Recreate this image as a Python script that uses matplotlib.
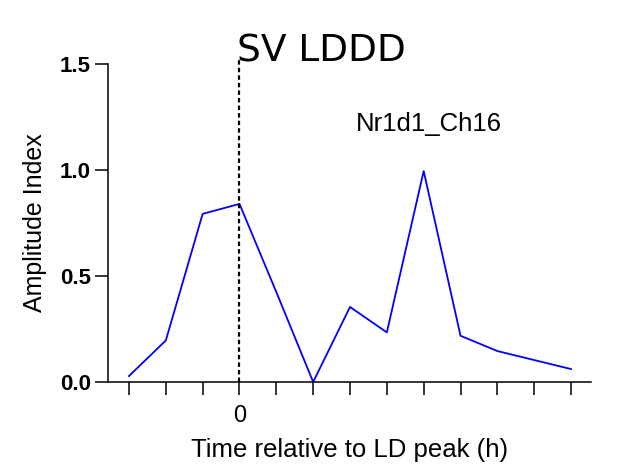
import numpy as np
import matplotlib
matplotlib.use("Agg")
import matplotlib.pyplot as plt

# time relative to LD peak (h) and amplitude index
hours = [-12, -8, -4, 0, 4, 8, 12, 16, 20, 24, 28, 36]
amp = [0.028, 0.196, 0.793, 0.840, 0.424, 0.0, 0.354, 0.234, 0.995, 0.218, 0.146, 0.061]
tick_hours = list(range(-12, 37, 4))
yticks = [0.0, 0.5, 1.0, 1.5]
ytick_labels = ["0.0", "0.5", "1.0", "1.5"]

plt.rcParams['font.family'] = ['Liberation Sans', 'DejaVu Sans']

fig = plt.figure(figsize=(6.21, 4.74), dpi=100)
ax = fig.add_axes([0.1739, 0.1941, 0.7778, 0.6709])

ax.plot(hours, amp, color="#0000FF", linewidth=1.3)
ax.plot([0, 0], [0, 1.53], color="black", linewidth=1.6,
        linestyle=(0, (2, 1.4)), clip_on=False)

ax.set_xlim(-14.28, 38.17)
ax.set_ylim(0, 1.5)

ax.set_xticks(tick_hours)
ax.set_xticklabels(["0" if h == 0 else "" for h in tick_hours], fontsize=17)
ax.set_yticks(yticks)
ax.set_yticklabels(ytick_labels, fontsize=16, fontweight="bold")

ax.tick_params(axis="both", direction="out", length=9.5, width=1.1, color="black")
ax.tick_params(axis="x", pad=7)
ax.tick_params(axis="y", pad=3)

for side in ["top", "right"]:
    ax.spines[side].set_visible(False)
for side in ["left", "bottom"]:
    ax.spines[side].set_linewidth(1.1)

ax.set_xlabel("Time relative to LD peak (h)", fontsize=18.5, labelpad=8)
ax.set_ylabel("Amplitude Index", fontsize=18, labelpad=9)

fig.text(321 / 621, 1 - 51 / 474, "SV LDDD", fontsize=27, family="DejaVu Sans",
         ha="center", va="center")
ax.text(20.6, 1.16, "Nr1d1_Ch16", fontsize=18.5, ha="center", va="bottom")

fig.savefig("out.png", dpi=100)
